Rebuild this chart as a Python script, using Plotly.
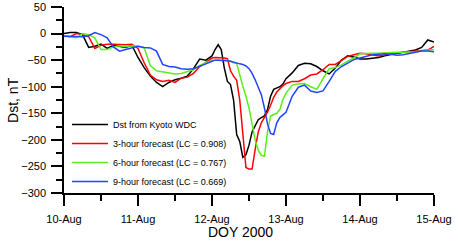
import pandas as pd
import plotly.graph_objects as go

# hours after 2000-08-10 00:00 UT
hours = [0, 2, 4, 6, 8, 10, 12, 14, 16, 18, 20, 22, 24, 26, 28, 30, 32, 34, 36, 38, 40, 42, 44, 46,
         48, 49, 50, 51, 52, 53, 54, 55, 56, 57, 58, 59, 60, 61, 62, 63, 64, 65, 66, 67, 68, 69, 70, 71, 72,
         74, 76, 78, 80, 82, 84, 86, 88, 90, 92, 94, 96, 98, 100, 102, 104, 106, 108, 110, 112, 114, 116, 118, 120]

dst_kyoto = [0, 2, 2, -2, -26, -24, -20, -28, -22, -24, -26, -22, -45, -64, -80, -92, -100, -92, -87, -84, -80, -66, -48, -50,
             -42, -30, -21, -30, -65, -90, -96, -125, -190, -203, -233, -228, -210, -185, -172, -162, -158, -155, -143, -118, -105, -102, -100, -95, -85,
             -74, -60, -56, -57, -62, -70, -76, -65, -50, -42, -44, -48, -48, -47, -45, -42, -39, -37, -35, -33, -31, -26, -12, -16]

fc_3h = [-4, -6, 0, -2, -6, -28, -22, -20, -20, -21, -21, -20, -28, -55, -78, -87, -90, -88, -92, -84, -82, -75, -62, -54,
         -46, -45, -45, -45, -46, -47, -70, -80, -88, -125, -190, -252, -255, -255, -218, -185, -168, -158, -148, -135, -120, -110, -104, -98, -94,
         -90, -90, -85, -78, -76, -68, -58, -58, -50, -43, -40, -37, -38, -40, -42, -40, -38, -36, -35, -34, -33, -32, -31, -24]

fc_6h = [-4, -6, -8, 0, -2, -8, -30, -30, -25, -23, -25, -23, -24, -27, -60, -70, -72, -74, -76, -75, -72, -68, -60, -55,
         -50, -50, -50, -50, -50, -50, -52, -55, -56, -80, -99, -118, -140, -170, -200, -220, -229, -231, -185, -155, -153, -150, -143, -124, -112,
         -97, -95, -94, -100, -105, -85, -66, -64, -59, -52, -46, -38, -37, -37, -37, -36, -36, -35, -35, -35, -34, -33, -32, -30]

fc_9h = [-5, -5, -6, -6, -4, 2, -2, -8, -25, -33, -30, -27, -24, -26, -27, -33, -58, -62, -63, -66, -67, -66, -62, -57,
         -52, -50, -50, -50, -50, -51, -52, -54, -56, -57, -58, -61, -66, -75, -87, -100, -115, -140, -170, -188, -190, -168, -158, -153, -148,
         -118, -101, -97, -108, -111, -108, -90, -71, -62, -55, -49, -46, -43, -40, -39, -38, -39, -41, -40, -38, -35, -33, -33, -34]

series_names = ["Dst from Kyoto WDC",
                "3-hour forecast (LC = 0.908)",
                "6-hour forecast (LC = 0.767)",
                "9-hour forecast (LC = 0.669)"]
series_values = [dst_kyoto, fc_3h, fc_6h, fc_9h]
series_colors = ["#000000", "#ff0000", "#5cee1a", "#2244ff"]

y_ticks = [50, 0, -50, -100, -150, -200, -250, -300]
x_tick_dates = ["2000-08-10", "2000-08-11", "2000-08-12", "2000-08-13", "2000-08-14", "2000-08-15"]
x_tick_labels = ["10-Aug", "11-Aug", "12-Aug", "13-Aug", "14-Aug", "15-Aug"]

t0 = pd.Timestamp("2000-08-10")
times = [t0 + pd.Timedelta(hours=h) for h in hours]

font_family = "Liberation Sans, Arial, sans-serif"

fig = go.Figure()
for name, vals, col in zip(series_names, series_values, series_colors):
    fig.add_trace(go.Scatter(x=times, y=vals, mode="lines", name=name,
                             line=dict(color=col, width=1.5)))

fig.update_layout(
    width=458, height=241,
    margin=dict(l=64, r=24, t=7, b=48, autoexpand=False),
    paper_bgcolor="white", plot_bgcolor="white",
    font=dict(family=font_family, size=11, color="black"),
    showlegend=True,
    legend=dict(x=0.008, y=0.446, xanchor="left", yanchor="top",
                bgcolor="rgba(0,0,0,0)", borderwidth=0,
                font=dict(size=9, family=font_family),
                itemwidth=36, traceorder="normal"),
    xaxis=dict(type="date", range=["2000-08-10", "2000-08-15"],
               tickvals=x_tick_dates, ticktext=x_tick_labels, automargin=False,
               showline=True, linecolor="black", linewidth=1.5,
               ticks="outside", ticklen=11, tickwidth=1.5, tickcolor="black",
               ticklabelstandoff=4,
               minor=dict(dtick=43200000, ticklen=6, tickwidth=1.5, tickcolor="black", ticks="outside"),
               showgrid=False, zeroline=False),
    yaxis=dict(range=[-300, 50], tickvals=y_ticks, automargin=False,
               showline=True, linecolor="black", linewidth=1.5,
               ticks="outside", ticklen=11, tickwidth=1.5, tickcolor="black",
               ticklabelstandoff=3,
               minor=dict(dtick=25, ticklen=6, tickwidth=1.5, tickcolor="black", ticks="outside"),
               showgrid=False, zeroline=False),
    annotations=[
        dict(text="DOY 2000", xref="paper", yref="paper", x=0.476, y=-0.21,
             xanchor="center", yanchor="middle", showarrow=False, font=dict(size=14)),
        dict(text="Dst, nT", xref="paper", yref="paper", x=-0.138, y=0.5, textangle=-90,
             xanchor="center", yanchor="middle", showarrow=False, font=dict(size=14)),
    ],
)

fig.write_html("out.html", config={"displayModeBar": False},
               post_script="document.body.style.margin='0px';document.body.style.overflow='hidden';")
